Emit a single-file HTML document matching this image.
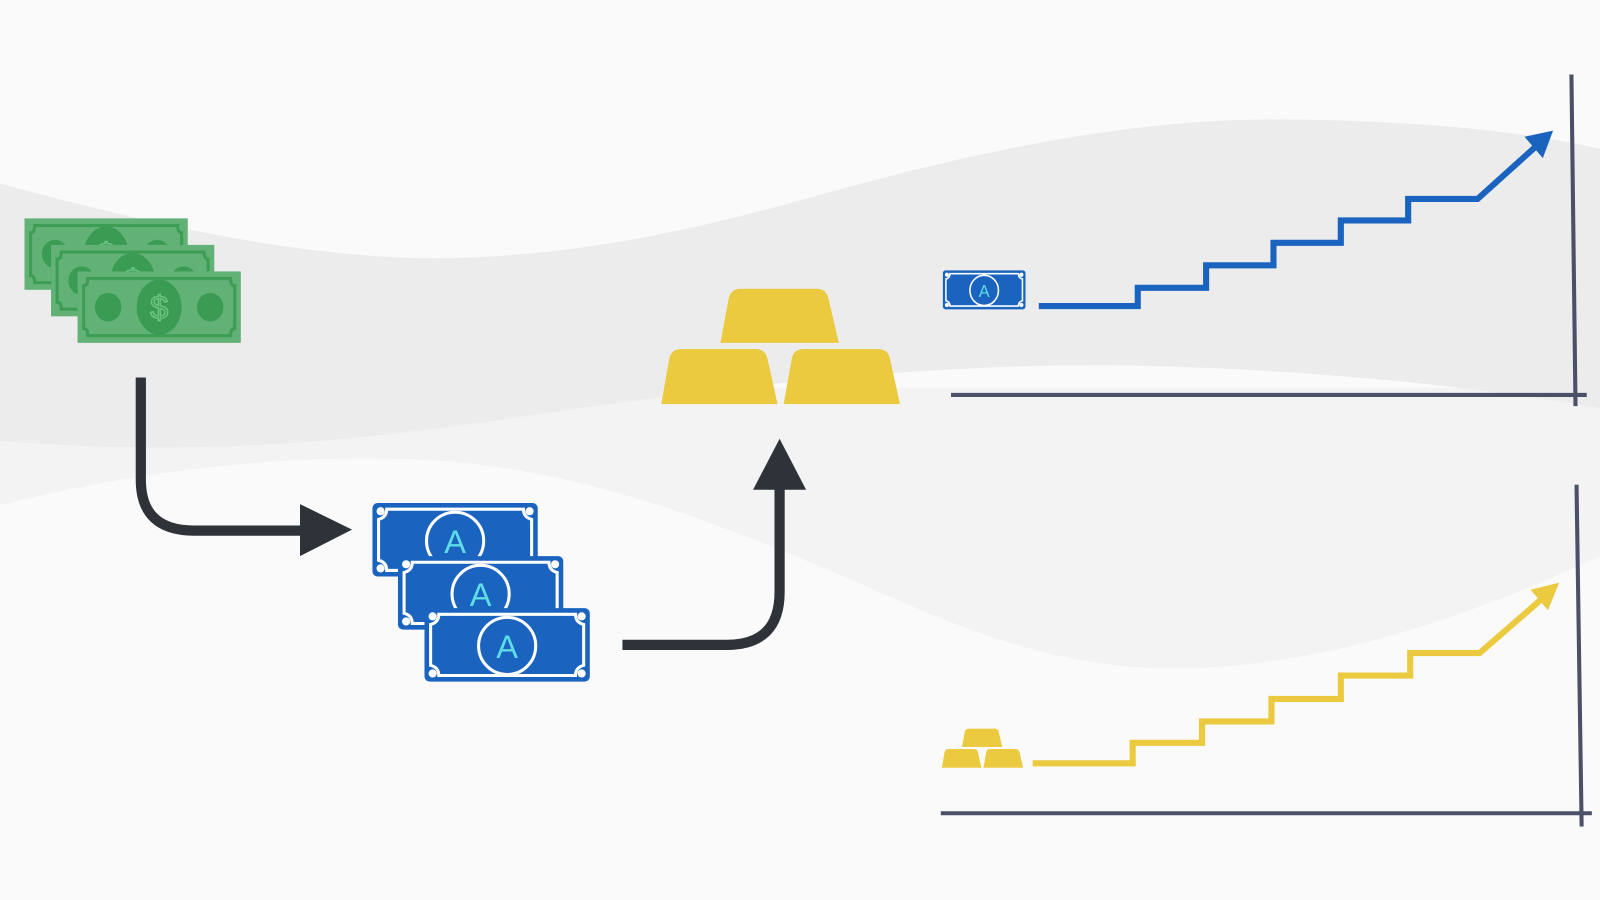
<!DOCTYPE html>
<html><head><meta charset="utf-8"><style>
html,body{margin:0;padding:0;background:#fafafa;}
svg{display:block;}
</style></head><body>
<svg width="1600" height="900" viewBox="0 0 1568 882" preserveAspectRatio="none" xmlns="http://www.w3.org/2000/svg">
<defs>
<g id="gbill">
  <rect x="0" y="0" width="160" height="70" fill="#62b177"/>
  <path d="M10,7 H150 Q150,14 154,14 V56 Q150,56 150,63 H10 Q10,56 6,56 V14 Q10,14 10,7 Z" fill="none" stroke="#3d9d55" stroke-width="3"/>
  <ellipse cx="30" cy="35" rx="13" ry="14" fill="#3a9b52"/>
  <ellipse cx="130" cy="35" rx="13" ry="14" fill="#3a9b52"/>
  <ellipse cx="80" cy="35" rx="22" ry="27" fill="#3a9b52"/>
  <text x="80" y="46" font-family="Liberation Sans, sans-serif" font-size="32" fill="none" stroke="#6cc283" stroke-width="1.5" text-anchor="middle">$</text>
</g>
<g id="bbill">
  <rect x="0" y="0" width="162" height="72" rx="5" fill="#1a64c0"/>
  <path d="M14,6 H148 Q148,14 156,16 V56 Q148,58 148,66 H14 Q14,58 6,56 V16 Q14,14 14,6 Z" fill="none" stroke="#fff" stroke-width="3"/>
  <circle cx="8" cy="8" r="4" fill="#fff"/><circle cx="154" cy="8" r="4" fill="#fff"/>
  <circle cx="8" cy="64" r="4" fill="#fff"/><circle cx="154" cy="64" r="4" fill="#fff"/>
  <circle cx="81" cy="37" r="28" fill="none" stroke="#fff" stroke-width="3"/>
  <text x="81" y="49" font-family="Liberation Sans, sans-serif" font-size="32" fill="#5fdde6" text-anchor="middle">A</text>
</g>
<g id="gold">
  <path d="M68,0 H152 Q162,0 164,10 L174,53 H58 L66,10 Q68,0 78,0 Z" fill="#ecca40"/>
  <path d="M12,59 H92 Q102,59 104,68 L114,113 H0 L8,68 Q10,59 20,59 Z" fill="#ecca40"/>
  <path d="M132,59 H212 Q222,59 224,68 L234,113 H120 L128,68 Q130,59 140,59 Z" fill="#ecca40"/>
</g>
</defs>
<rect width="1568" height="882" fill="#fafafa"/>
<!-- lighter wave -->
<path d="M0,495 C120,465 260,445 400,450 C560,455 700,510 850,575 C950,620 1040,655 1150,655 C1300,655 1450,600 1568,545 L1568,380 L0,380 Z" fill="#f3f3f3"/>
<!-- darker wave -->
<path d="M0,180 C150,220 300,255 440,253 C580,250 700,220 800,192 C950,150 1100,117 1250,117 C1400,118 1500,130 1568,146 L1568,400 C1450,380 1300,362 1100,358 C900,356 700,380 500,410 C350,432 200,448 0,432 Z" fill="#ececec"/>

<!-- green bills -->
<use href="#gbill" x="24" y="214"/>
<use href="#gbill" x="50" y="240"/>
<use href="#gbill" x="76" y="266"/>

<!-- arrow 1 -->
<path d="M138,370 V470 Q138,520 190,520 H300" fill="none" stroke="#2e333a" stroke-width="10"/>
<polygon points="294,494 345,519 294,545" fill="#2e333a"/>

<!-- blue bills -->
<use href="#bbill" x="365" y="493"/>
<use href="#bbill" x="390" y="545"/>
<use href="#bbill" x="416" y="596"/>

<!-- arrow 2 -->
<path d="M610,632 H712 Q764,632 764,580 V476" fill="none" stroke="#2e333a" stroke-width="10"/>
<polygon points="738,480 764,430 790,480" fill="#2e333a"/>

<!-- gold -->
<use href="#gold" x="648" y="283"/>

<!-- upper chart -->
<line x1="932" y1="387" x2="1555" y2="387" stroke="#4a5068" stroke-width="4"/>
<line x1="1540" y1="73" x2="1544" y2="398" stroke="#4a5068" stroke-width="4"/>
<g transform="translate(924,265) scale(0.5,0.53)"><use href="#bbill"/></g>
<path d="M1018,300 H1115 V282 H1182 V260 H1248 V238 H1314 V216 H1380 V195 H1448 L1508,141" fill="none" stroke="#1a64c0" stroke-width="6"/>
<polygon points="1494,134 1522,128 1512,155" fill="#1a64c0"/>

<!-- lower chart -->
<line x1="922" y1="797" x2="1560" y2="797" stroke="#4a5068" stroke-width="4"/>
<line x1="1545" y1="475" x2="1550" y2="810" stroke="#4a5068" stroke-width="4"/>
<g transform="translate(923,714) scale(0.34,0.34)"><use href="#gold"/></g>
<path d="M1012,748 H1110 V728 H1178 V707 H1246 V685 H1314 V662 H1382 V640 H1450 L1512,586" fill="none" stroke="#ecca40" stroke-width="6"/>
<polygon points="1500,578 1528,571 1517,598" fill="#ecca40"/>
</svg>
</body></html>
